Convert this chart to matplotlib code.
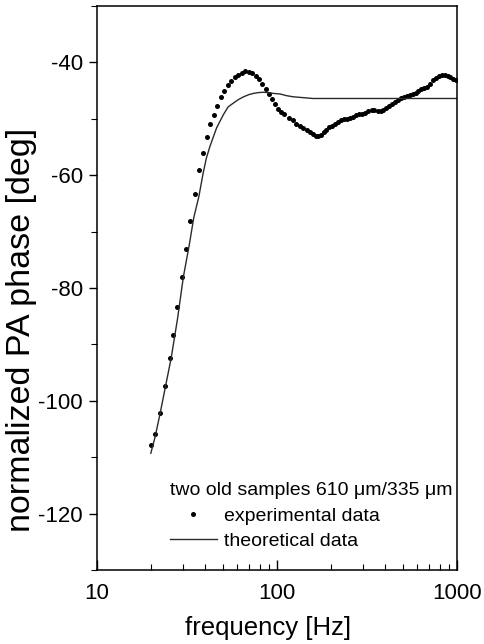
import matplotlib
matplotlib.use("Agg")
import matplotlib.pyplot as plt
from matplotlib.ticker import MultipleLocator, FixedLocator, NullFormatter

plt.rcParams["font.family"] = ["Liberation Sans", "DejaVu Sans"]
plt.rcParams["axes.unicode_minus"] = False

# experimental PA phase (dots)
exp_freq = [19.9, 21.0, 22.4, 23.8, 25.3, 26.4, 27.9, 29.5, 31.2, 32.9,
            35.0, 36.9, 38.8, 40.6, 42.6, 44.4, 46.4, 48.7, 51.0, 53.2,
            55.5, 58.2, 60.7, 63.6, 66.4, 69.6, 72.9, 76.2, 79.4, 82.9,
            86.5, 89.9, 93.4, 97.0, 100.9, 105.2,
            110, 116, 122, 128, 134, 140, 146, 152, 158, 164,
            170, 176, 182, 188, 195, 202, 210, 218, 226, 235,
            245, 255, 265, 276, 287, 298, 310, 322, 335, 348,
            362, 376, 390, 405, 420, 436, 452, 469, 487, 506,
            526, 546, 567, 589, 611, 634, 658, 683, 709, 736,
            764, 793, 823, 854, 887, 920, 955, 990]
exp_phase = [-107.8, -105.8, -102.1, -97.3, -92.5, -88.4, -83.4, -78.0, -73.0, -68.2,
             -63.3, -59.0, -56.0, -53.3, -50.9, -49.4, -47.8, -46.2, -45.0, -44.0,
             -43.3, -42.6, -42.2, -41.8, -41.6, -41.7, -41.9, -42.4, -43.0, -43.9,
             -44.8, -45.6, -46.5, -47.4, -48.2, -48.8,
             -49.2, -49.8, -50.3, -50.9, -51.3, -51.6, -52.0, -52.4, -52.7, -53.0,
             -53.1, -52.8, -52.4, -52.0, -51.5, -51.2, -50.9, -50.6, -50.3, -50.1,
             -50.0, -49.9, -49.6, -49.4, -49.2, -49.1, -48.9, -48.7, -48.5, -48.5,
             -48.6, -48.7, -48.4, -48.0, -47.7, -47.3, -47.0, -46.7, -46.4, -46.1,
             -45.9, -45.7, -45.6, -45.4, -45.1, -44.8, -44.6, -44.3, -43.8, -43.2,
             -42.8, -42.4, -42.3, -42.3, -42.5, -42.6, -42.9, -43.1]

# theoretical curve (thin line)
theo_freq = [19.9, 21.0, 22.5, 24.0, 25.8, 28.0, 30.2, 32.5, 34.5, 36.8,
             38.9, 40.5, 42.4, 46.2, 50.3, 53.5, 57.3, 61.0, 65.2, 70.0,
             74.0, 79.0, 84.0, 90.0, 95.5, 104, 113, 123, 134, 146,
             158, 200, 400, 1000]
theo_phase = [-109.3, -106.5, -102.0, -97.5, -92.5, -85.5, -78.0, -72.5, -67.5, -63.8,
              -59.6, -57.0, -54.9, -51.6, -49.3, -47.9, -47.2, -46.6, -46.1, -45.7,
              -45.5, -45.35, -45.3, -45.35, -45.5, -45.6, -45.9, -46.1, -46.2, -46.3,
              -46.4, -46.4, -46.4, -46.4]

x_ticks = [10, 100, 1000]
y_ticks = [-120, -100, -80, -60, -40]

fig = plt.figure(figsize=(4.84, 6.44), dpi=100)
ax = fig.add_axes([0.2004, 0.1149, 0.7438, 0.8758])

ax.plot(exp_freq, exp_phase, "o", color="black", markersize=3.6, markeredgewidth=0,
        label="experimental data")
ax.plot(theo_freq, theo_phase, "-", color="#2a2a2a", linewidth=1.0, label="theoretical data")

ax.set_xscale("log")
ax.set_xlim(10, 1000)
ax.set_ylim(-130, -30)
ax.xaxis.set_major_locator(FixedLocator(x_ticks))
ax.set_xticklabels([str(t) for t in x_ticks])
ax.xaxis.set_minor_locator(FixedLocator([20, 30, 40, 50, 60, 70, 80, 90,
                                         200, 300, 400, 500, 600, 700, 800, 900]))
ax.xaxis.set_minor_formatter(NullFormatter())
ax.set_yticks(y_ticks)
ax.yaxis.set_minor_locator(MultipleLocator(10))

ax.tick_params(axis="x", which="both", direction="in", labelsize=16, pad=9)
ax.tick_params(axis="x", which="major", length=7, width=1)
ax.tick_params(axis="x", which="minor", length=4, width=0.8)
ax.tick_params(axis="y", which="both", direction="out", labelsize=16, pad=4)
ax.tick_params(axis="y", which="major", length=6, width=1)
ax.tick_params(axis="y", which="minor", length=4, width=0.8)
for s in ax.spines.values():
    s.set_linewidth(1.1)

ax.set_xlabel("frequency [Hz]", fontsize=18.5)
ax.set_ylabel("normalized PA phase [deg]", fontsize=24.5)
ax.xaxis.set_label_coords(0.475, -0.082)
ax.yaxis.set_label_coords(-0.166, 0.4255)

leg = ax.legend(title="two old samples 610 \u03bcm/335 \u03bcm", loc="lower left",
                bbox_to_anchor=(0.203, 0.035), frameon=False, fontsize=14,
                title_fontsize=14, handlelength=2.4, handletextpad=0.35,
                labelspacing=0.4, borderpad=0, borderaxespad=0, alignment="left",
                markerscale=1.0)

fig.savefig("out.png", dpi=100)
